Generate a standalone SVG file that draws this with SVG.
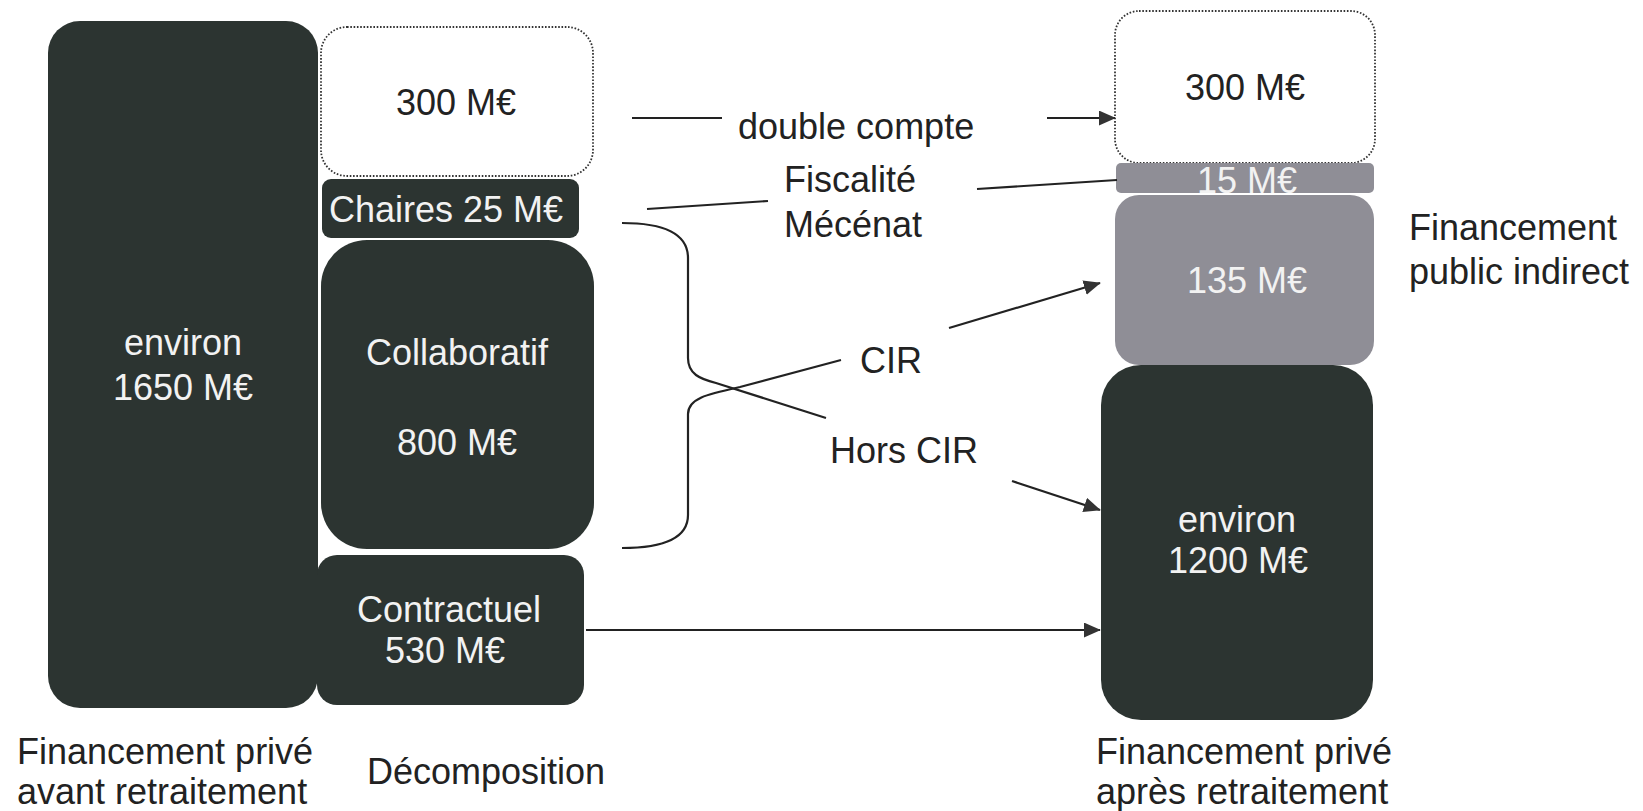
<svg xmlns="http://www.w3.org/2000/svg" width="1643" height="811" viewBox="0 0 1643 811">
<defs>
<style>
.dark{fill:#2c3431}
.gray{fill:#8f8e96}
.white{fill:#ffffff;stroke:#333;stroke-width:1.8;stroke-dasharray:1.6 1.7}
text{font-family:"Liberation Sans",Arial,sans-serif;font-size:36px}
.tw{fill:#f2f2f2;text-anchor:middle}
.tb{fill:#222;text-anchor:middle}
.tl{fill:#222}
.ln{fill:none;stroke:#222;stroke-width:2.2}
</style>
<marker id="ah2" viewBox="0 0 10 10" refX="9.5" refY="5" markerWidth="17" markerHeight="15" markerUnits="userSpaceOnUse" orient="auto" preserveAspectRatio="none">
<path d="M0,0 L10,5 L0,10 Z" fill="#333"/>
</marker>
</defs>
<rect width="1643" height="811" fill="#ffffff"/>

<g id="avant">
<rect class="dark" x="48" y="21" width="270" height="687" rx="32"/>
<text class="tw" x="183" y="355">environ</text>
<text class="tw" x="183" y="400">1650 M€</text>
</g>

<g id="double-gauche">
<rect class="white" x="321" y="27" width="272" height="149" rx="26"/>
<text class="tb" x="456" y="115">300 M€</text>
</g>

<g id="chaires">
<rect class="dark" x="322" y="179" width="257" height="59" rx="9"/>
<text class="tw" x="446" y="222">Chaires 25 M€</text>
</g>

<g id="collaboratif">
<rect class="dark" x="321" y="240" width="273" height="309" rx="46"/>
<text class="tw" x="457" y="365">Collaboratif</text>
<text class="tw" x="457" y="455">800 M€</text>
</g>

<g id="contractuel">
<rect class="dark" x="317" y="555" width="267" height="150" rx="20"/>
<text class="tw" x="449" y="622">Contractuel</text>
<text class="tw" x="445" y="663">530 M€</text>
</g>

<g id="double-droite">
<rect class="white" x="1115" y="11" width="260" height="152" rx="24"/>
<text class="tb" x="1245" y="100">300 M€</text>
</g>

<g id="mecenat">
<rect class="gray" x="1116" y="163" width="258" height="30" rx="5"/>
<text class="tw" x="1247" y="193">15 M€</text>
</g>

<g id="cir-public">
<rect class="gray" x="1115" y="195" width="259" height="170" rx="24"/>
<text class="tw" x="1247" y="293">135 M€</text>
</g>

<g id="apres">
<rect class="dark" x="1101" y="365" width="272" height="355" rx="40"/>
<text class="tw" x="1237" y="532">environ</text>
<text class="tw" x="1238" y="573">1200 M€</text>
</g>

<g id="labels">
<text class="tl" x="17" y="764">Financement privé</text>
<text class="tl" x="17" y="804">avant retraitement</text>
<text class="tl" x="367" y="784">Décomposition</text>
<text class="tl" x="1096" y="764">Financement privé</text>
<text class="tl" x="1096" y="804">après retraitement</text>
<text class="tl" x="1409" y="240">Financement</text>
<text class="tl" x="1409" y="284">public indirect</text>
<text class="tl" x="738" y="139">double compte</text>
<text class="tl" x="784" y="192">Fiscalité</text>
<text class="tl" x="784" y="237">Mécénat</text>
<text class="tl" x="860" y="373">CIR</text>
<text class="tl" x="830" y="463">Hors CIR</text>
</g>

<g id="connectors">
<line class="ln" x1="632" y1="118" x2="722" y2="118"/>
<line class="ln" x1="1047" y1="118" x2="1115" y2="118" marker-end="url(#ah2)"/>
<line class="ln" x1="647" y1="209" x2="768" y2="201"/>
<line class="ln" x1="977" y1="189" x2="1117" y2="180"/>
<path class="ln" d="M622 223 C662 223 688 233 688 258 L688 358 C688 374 700 379 716 383 L826 418"/>
<path class="ln" d="M841 360 L740 387 C708 394 688 398 688 414 L688 515 C688 538 665 548 622 548"/>
<line class="ln" x1="949" y1="328" x2="1100" y2="283" marker-end="url(#ah2)"/>
<line class="ln" x1="1012" y1="481" x2="1100" y2="510" marker-end="url(#ah2)"/>
<line class="ln" x1="586" y1="630" x2="1100" y2="630" marker-end="url(#ah2)"/>
</g>
</svg>
